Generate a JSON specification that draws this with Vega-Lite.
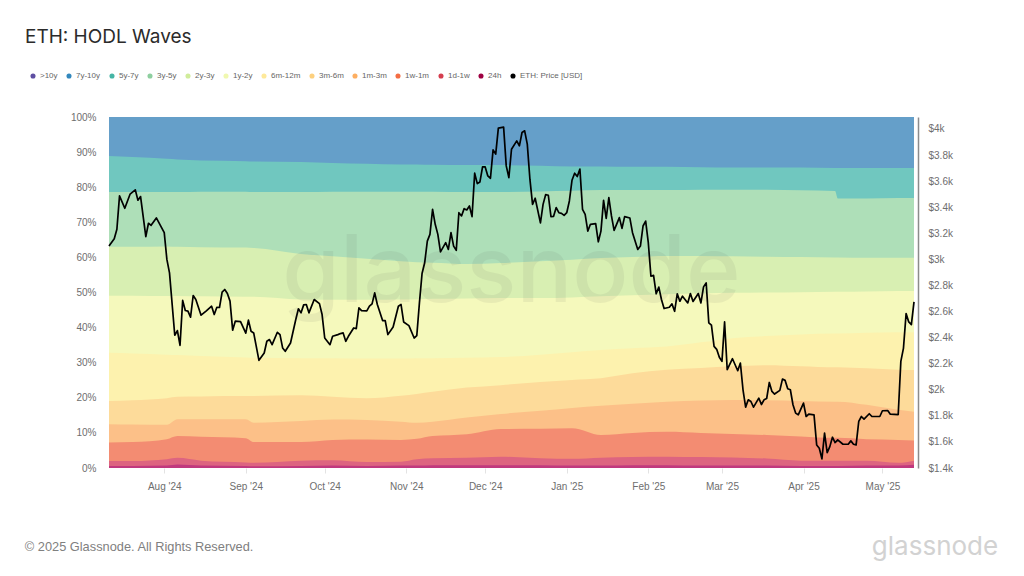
{"$schema":"https://vega.github.io/schema/vega-lite/v6.json","autosize":"none","width":805,"height":351,"padding":{"left":109,"top":117,"right":110,"bottom":108},"background":"white","title":{"text":"ETH: HODL Waves","anchor":"start","frame":"group","dx":-84,"offset":25,"fontSize":19,"fontWeight":"normal","font":"Inter","color":"#2b2b2b"},
"datasets":{"bands":[
{"date":"2024-07-11",">10y":100,"7y-10y":100,"5y-7y":88.9,"3y-5y":78.6,"2y-3y":63.0,"1y-2y":49.1,"6m-12m":32.8,"3m-6m":19.1,"1m-3m":12.5,"1w-1m":7.3,"1d-1w":2.0,"24h":0.6},
{"date":"2024-07-20",">10y":100,"7y-10y":100,"5y-7y":88.6,"3y-5y":78.6,"2y-3y":63.0,"1y-2y":49.1,"6m-12m":32.6,"3m-6m":19.3,"1m-3m":12.4,"1w-1m":7.4,"1d-1w":2.0,"24h":0.6},
{"date":"2024-08-02",">10y":100,"7y-10y":100,"5y-7y":88.1,"3y-5y":78.6,"2y-3y":63.1,"1y-2y":49.0,"6m-12m":32.3,"3m-6m":19.9,"1m-3m":12.3,"1w-1m":8.2,"1d-1w":2.5,"24h":0.7},
{"date":"2024-08-06",">10y":100,"7y-10y":100,"5y-7y":87.9,"3y-5y":78.6,"2y-3y":63.0,"1y-2y":49.0,"6m-12m":32.2,"3m-6m":20.3,"1m-3m":13.9,"1w-1m":9.1,"1d-1w":2.9,"24h":1.0},
{"date":"2024-08-15",">10y":100,"7y-10y":100,"5y-7y":87.6,"3y-5y":78.7,"2y-3y":62.9,"1y-2y":48.9,"6m-12m":31.9,"3m-6m":20.4,"1m-3m":13.9,"1w-1m":8.9,"1d-1w":2.1,"24h":0.7},
{"date":"2024-09-01",">10y":100,"7y-10y":100,"5y-7y":87.4,"3y-5y":78.7,"2y-3y":62.8,"1y-2y":48.8,"6m-12m":31.5,"3m-6m":20.5,"1m-3m":13.9,"1w-1m":8.5,"1d-1w":1.6,"24h":0.6},
{"date":"2024-09-04",">10y":100,"7y-10y":100,"5y-7y":87.3,"3y-5y":78.6,"2y-3y":62.7,"1y-2y":48.8,"6m-12m":31.4,"3m-6m":20.5,"1m-3m":12.9,"1w-1m":7.4,"1d-1w":1.5,"24h":0.5},
{"date":"2024-09-22",">10y":100,"7y-10y":100,"5y-7y":87.2,"3y-5y":78.6,"2y-3y":61.0,"1y-2y":48.0,"6m-12m":31.3,"3m-6m":20.7,"1m-3m":13.4,"1w-1m":7.4,"1d-1w":2.1,"24h":0.6},
{"date":"2024-10-04",">10y":100,"7y-10y":100,"5y-7y":86.9,"3y-5y":78.7,"2y-3y":60.3,"1y-2y":47.9,"6m-12m":31.3,"3m-6m":20.3,"1m-3m":13.8,"1w-1m":8.0,"1d-1w":2.2,"24h":0.7},
{"date":"2024-10-17",">10y":100,"7y-10y":100,"5y-7y":86.7,"3y-5y":78.7,"2y-3y":59.6,"1y-2y":47.9,"6m-12m":31.2,"3m-6m":19.9,"1m-3m":13.7,"1w-1m":8.1,"1d-1w":1.7,"24h":0.6},
{"date":"2024-10-30",">10y":100,"7y-10y":100,"5y-7y":86.5,"3y-5y":78.7,"2y-3y":58.9,"1y-2y":48.0,"6m-12m":31.2,"3m-6m":20.6,"1m-3m":13.2,"1w-1m":8.0,"1d-1w":1.8,"24h":0.7},
{"date":"2024-11-05",">10y":100,"7y-10y":100,"5y-7y":86.5,"3y-5y":78.7,"2y-3y":58.6,"1y-2y":48.1,"6m-12m":31.3,"3m-6m":21.1,"1m-3m":12.9,"1w-1m":8.3,"1d-1w":2.5,"24h":0.7},
{"date":"2024-11-11",">10y":100,"7y-10y":100,"5y-7y":86.4,"3y-5y":78.7,"2y-3y":58.5,"1y-2y":48.2,"6m-12m":31.3,"3m-6m":21.7,"1m-3m":13.2,"1w-1m":9.1,"1d-1w":2.8,"24h":0.8},
{"date":"2024-11-24",">10y":100,"7y-10y":100,"5y-7y":86.3,"3y-5y":78.6,"2y-3y":58.1,"1y-2y":48.3,"6m-12m":31.4,"3m-6m":22.9,"1m-3m":14.4,"1w-1m":9.6,"1d-1w":2.9,"24h":0.8},
{"date":"2024-12-07",">10y":100,"7y-10y":100,"5y-7y":86.3,"3y-5y":78.6,"2y-3y":58.4,"1y-2y":48.4,"6m-12m":31.6,"3m-6m":23.6,"1m-3m":15.4,"1w-1m":11.1,"1d-1w":3.2,"24h":0.8},
{"date":"2024-12-22",">10y":100,"7y-10y":100,"5y-7y":86.1,"3y-5y":78.8,"2y-3y":58.9,"1y-2y":48.4,"6m-12m":32.3,"3m-6m":24.5,"1m-3m":16.3,"1w-1m":11.2,"1d-1w":2.8,"24h":0.8},
{"date":"2025-01-03",">10y":100,"7y-10y":100,"5y-7y":85.9,"3y-5y":79.0,"2y-3y":59.3,"1y-2y":48.6,"6m-12m":33.0,"3m-6m":25.1,"1m-3m":17.1,"1w-1m":11.3,"1d-1w":2.6,"24h":0.7},
{"date":"2025-01-14",">10y":100,"7y-10y":100,"5y-7y":85.9,"3y-5y":79.2,"2y-3y":59.8,"1y-2y":48.9,"6m-12m":33.6,"3m-6m":25.6,"1m-3m":17.7,"1w-1m":9.4,"1d-1w":2.9,"24h":0.7},
{"date":"2025-01-26",">10y":100,"7y-10y":100,"5y-7y":85.8,"3y-5y":79.2,"2y-3y":60.1,"1y-2y":49.2,"6m-12m":34.1,"3m-6m":27.0,"1m-3m":18.3,"1w-1m":10.0,"1d-1w":3.1,"24h":0.8},
{"date":"2025-02-08",">10y":100,"7y-10y":100,"5y-7y":85.8,"3y-5y":79.2,"2y-3y":60.4,"1y-2y":49.5,"6m-12m":34.6,"3m-6m":28.0,"1m-3m":18.9,"1w-1m":10.3,"1d-1w":3.2,"24h":0.8},
{"date":"2025-02-21",">10y":100,"7y-10y":100,"5y-7y":85.7,"3y-5y":79.3,"2y-3y":60.4,"1y-2y":49.7,"6m-12m":35.8,"3m-6m":28.5,"1m-3m":19.2,"1w-1m":10.0,"1d-1w":3.1,"24h":0.7},
{"date":"2025-03-05",">10y":100,"7y-10y":100,"5y-7y":85.6,"3y-5y":79.3,"2y-3y":60.3,"1y-2y":49.9,"6m-12m":37.0,"3m-6m":29.0,"1m-3m":19.4,"1w-1m":9.7,"1d-1w":3.0,"24h":0.7},
{"date":"2025-03-18",">10y":100,"7y-10y":100,"5y-7y":85.6,"3y-5y":79.3,"2y-3y":60.2,"1y-2y":50.0,"6m-12m":37.6,"3m-6m":29.3,"1m-3m":19.3,"1w-1m":9.4,"1d-1w":2.7,"24h":0.7},
{"date":"2025-03-31",">10y":100,"7y-10y":100,"5y-7y":85.6,"3y-5y":79.1,"2y-3y":60.1,"1y-2y":50.1,"6m-12m":38.0,"3m-6m":29.0,"1m-3m":19.1,"1w-1m":9.0,"1d-1w":2.1,"24h":0.6},
{"date":"2025-04-13",">10y":100,"7y-10y":100,"5y-7y":85.5,"3y-5y":78.9,"2y-3y":60.0,"1y-2y":50.2,"6m-12m":38.3,"3m-6m":28.7,"1m-3m":18.9,"1w-1m":8.6,"1d-1w":2.1,"24h":0.6},
{"date":"2025-04-14",">10y":100,"7y-10y":100,"5y-7y":85.5,"3y-5y":76.8,"2y-3y":60.0,"1y-2y":50.2,"6m-12m":38.3,"3m-6m":28.7,"1m-3m":18.9,"1w-1m":8.6,"1d-1w":2.1,"24h":0.6},
{"date":"2025-04-25",">10y":100,"7y-10y":100,"5y-7y":85.5,"3y-5y":76.8,"2y-3y":59.9,"1y-2y":50.3,"6m-12m":38.5,"3m-6m":28.4,"1m-3m":18.0,"1w-1m":8.2,"1d-1w":2.1,"24h":0.7},
{"date":"2025-05-07",">10y":100,"7y-10y":100,"5y-7y":85.5,"3y-5y":76.9,"2y-3y":59.9,"1y-2y":50.4,"6m-12m":38.7,"3m-6m":28.0,"1m-3m":16.6,"1w-1m":8.0,"1d-1w":1.5,"24h":0.7},
{"date":"2025-05-13",">10y":100,"7y-10y":100,"5y-7y":85.5,"3y-5y":76.9,"2y-3y":59.9,"1y-2y":50.4,"6m-12m":38.7,"3m-6m":27.9,"1m-3m":16.0,"1w-1m":7.8,"1d-1w":2.1,"24h":0.9}
],
"price":[{"date":"2024-07-11","usd":3103},{"date":"2024-07-13","usd":3159},{"date":"2024-07-14","usd":3231},{"date":"2024-07-15","usd":3487},{"date":"2024-07-17","usd":3392},{"date":"2024-07-19","usd":3500},{"date":"2024-07-21","usd":3533},{"date":"2024-07-22","usd":3454},{"date":"2024-07-23","usd":3482},{"date":"2024-07-25","usd":3174},{"date":"2024-07-26","usd":3277},{"date":"2024-07-27","usd":3261},{"date":"2024-07-29","usd":3318},{"date":"2024-08-01","usd":3205},{"date":"2024-08-02","usd":3000},{"date":"2024-08-03","usd":2897},{"date":"2024-08-05","usd":2418},{"date":"2024-08-06","usd":2454},{"date":"2024-08-07","usd":2341},{"date":"2024-08-08","usd":2685},{"date":"2024-08-09","usd":2608},{"date":"2024-08-10","usd":2603},{"date":"2024-08-11","usd":2557},{"date":"2024-08-12","usd":2723},{"date":"2024-08-13","usd":2692},{"date":"2024-08-15","usd":2572},{"date":"2024-08-17","usd":2605},{"date":"2024-08-19","usd":2641},{"date":"2024-08-20","usd":2577},{"date":"2024-08-21","usd":2633},{"date":"2024-08-22","usd":2631},{"date":"2024-08-23","usd":2749},{"date":"2024-08-24","usd":2769},{"date":"2024-08-25","usd":2739},{"date":"2024-08-26","usd":2680},{"date":"2024-08-27","usd":2457},{"date":"2024-08-28","usd":2526},{"date":"2024-08-30","usd":2523},{"date":"2024-09-01","usd":2434},{"date":"2024-09-02","usd":2534},{"date":"2024-09-03","usd":2449},{"date":"2024-09-04","usd":2436},{"date":"2024-09-06","usd":2226},{"date":"2024-09-08","usd":2282},{"date":"2024-09-09","usd":2372},{"date":"2024-09-10","usd":2385},{"date":"2024-09-11","usd":2346},{"date":"2024-09-13","usd":2441},{"date":"2024-09-14","usd":2423},{"date":"2024-09-15","usd":2321},{"date":"2024-09-16","usd":2295},{"date":"2024-09-18","usd":2359},{"date":"2024-09-20","usd":2539},{"date":"2024-09-21","usd":2621},{"date":"2024-09-22","usd":2590},{"date":"2024-09-23","usd":2651},{"date":"2024-09-24","usd":2654},{"date":"2024-09-25","usd":2590},{"date":"2024-09-27","usd":2692},{"date":"2024-09-29","usd":2661},{"date":"2024-09-30","usd":2577},{"date":"2024-10-01","usd":2397},{"date":"2024-10-03","usd":2346},{"date":"2024-10-04","usd":2410},{"date":"2024-10-06","usd":2423},{"date":"2024-10-07","usd":2431},{"date":"2024-10-08","usd":2436},{"date":"2024-10-09","usd":2372},{"date":"2024-10-10","usd":2410},{"date":"2024-10-12","usd":2474},{"date":"2024-10-13","usd":2469},{"date":"2024-10-14","usd":2628},{"date":"2024-10-15","usd":2607},{"date":"2024-10-17","usd":2605},{"date":"2024-10-18","usd":2641},{"date":"2024-10-19","usd":2659},{"date":"2024-10-20","usd":2743},{"date":"2024-10-21","usd":2654},{"date":"2024-10-23","usd":2531},{"date":"2024-10-24","usd":2531},{"date":"2024-10-25","usd":2423},{"date":"2024-10-27","usd":2482},{"date":"2024-10-29","usd":2641},{"date":"2024-10-30","usd":2654},{"date":"2024-10-31","usd":2520},{"date":"2024-11-02","usd":2492},{"date":"2024-11-04","usd":2397},{"date":"2024-11-05","usd":2415},{"date":"2024-11-06","usd":2666},{"date":"2024-11-07","usd":2892},{"date":"2024-11-08","usd":2974},{"date":"2024-11-09","usd":3140},{"date":"2024-11-10","usd":3192},{"date":"2024-11-11","usd":3384},{"date":"2024-11-12","usd":3269},{"date":"2024-11-13","usd":3192},{"date":"2024-11-14","usd":3058},{"date":"2024-11-16","usd":3128},{"date":"2024-11-17","usd":3076},{"date":"2024-11-18","usd":3205},{"date":"2024-11-19","usd":3102},{"date":"2024-11-20","usd":3069},{"date":"2024-11-21","usd":3358},{"date":"2024-11-22","usd":3333},{"date":"2024-11-23","usd":3389},{"date":"2024-11-24","usd":3379},{"date":"2024-11-25","usd":3410},{"date":"2024-11-26","usd":3328},{"date":"2024-11-27","usd":3661},{"date":"2024-11-28","usd":3581},{"date":"2024-11-29","usd":3594},{"date":"2024-11-30","usd":3709},{"date":"2024-12-01","usd":3709},{"date":"2024-12-02","usd":3640},{"date":"2024-12-03","usd":3622},{"date":"2024-12-04","usd":3840},{"date":"2024-12-05","usd":3807},{"date":"2024-12-06","usd":4007},{"date":"2024-12-08","usd":4014},{"date":"2024-12-09","usd":3717},{"date":"2024-12-10","usd":3627},{"date":"2024-12-11","usd":3845},{"date":"2024-12-13","usd":3909},{"date":"2024-12-14","usd":3871},{"date":"2024-12-15","usd":3973},{"date":"2024-12-16","usd":3986},{"date":"2024-12-17","usd":3884},{"date":"2024-12-18","usd":3615},{"date":"2024-12-19","usd":3422},{"date":"2024-12-20","usd":3469},{"date":"2024-12-22","usd":3280},{"date":"2024-12-23","usd":3422},{"date":"2024-12-24","usd":3497},{"date":"2024-12-25","usd":3492},{"date":"2024-12-26","usd":3328},{"date":"2024-12-27","usd":3330},{"date":"2024-12-28","usd":3397},{"date":"2024-12-29","usd":3358},{"date":"2024-12-30","usd":3353},{"date":"2024-12-31","usd":3338},{"date":"2025-01-01","usd":3358},{"date":"2025-01-02","usd":3448},{"date":"2025-01-03","usd":3607},{"date":"2025-01-04","usd":3661},{"date":"2025-01-05","usd":3635},{"date":"2025-01-06","usd":3692},{"date":"2025-01-07","usd":3384},{"date":"2025-01-08","usd":3345},{"date":"2025-01-09","usd":3217},{"date":"2025-01-10","usd":3269},{"date":"2025-01-12","usd":3274},{"date":"2025-01-13","usd":3135},{"date":"2025-01-14","usd":3217},{"date":"2025-01-15","usd":3453},{"date":"2025-01-16","usd":3315},{"date":"2025-01-17","usd":3474},{"date":"2025-01-18","usd":3333},{"date":"2025-01-19","usd":3223},{"date":"2025-01-21","usd":3320},{"date":"2025-01-22","usd":3238},{"date":"2025-01-23","usd":3328},{"date":"2025-01-25","usd":3317},{"date":"2025-01-26","usd":3205},{"date":"2025-01-28","usd":3076},{"date":"2025-01-29","usd":3102},{"date":"2025-01-30","usd":3256},{"date":"2025-01-31","usd":3294},{"date":"2025-02-01","usd":3128},{"date":"2025-02-02","usd":2871},{"date":"2025-02-03","usd":2877},{"date":"2025-02-04","usd":2736},{"date":"2025-02-05","usd":2787},{"date":"2025-02-06","usd":2692},{"date":"2025-02-07","usd":2623},{"date":"2025-02-09","usd":2633},{"date":"2025-02-10","usd":2659},{"date":"2025-02-11","usd":2602},{"date":"2025-02-12","usd":2736},{"date":"2025-02-13","usd":2679},{"date":"2025-02-14","usd":2718},{"date":"2025-02-16","usd":2666},{"date":"2025-02-17","usd":2738},{"date":"2025-02-18","usd":2677},{"date":"2025-02-20","usd":2738},{"date":"2025-02-21","usd":2666},{"date":"2025-02-22","usd":2789},{"date":"2025-02-23","usd":2820},{"date":"2025-02-24","usd":2513},{"date":"2025-02-25","usd":2495},{"date":"2025-02-26","usd":2333},{"date":"2025-02-27","usd":2310},{"date":"2025-02-28","usd":2250},{"date":"2025-03-01","usd":2218},{"date":"2025-03-02","usd":2520},{"date":"2025-03-03","usd":2154},{"date":"2025-03-05","usd":2238},{"date":"2025-03-07","usd":2146},{"date":"2025-03-08","usd":2205},{"date":"2025-03-09","usd":2000},{"date":"2025-03-10","usd":1867},{"date":"2025-03-11","usd":1923},{"date":"2025-03-12","usd":1910},{"date":"2025-03-13","usd":1867},{"date":"2025-03-15","usd":1936},{"date":"2025-03-16","usd":1887},{"date":"2025-03-17","usd":1923},{"date":"2025-03-18","usd":1933},{"date":"2025-03-19","usd":2056},{"date":"2025-03-20","usd":1987},{"date":"2025-03-21","usd":1967},{"date":"2025-03-23","usd":1995},{"date":"2025-03-24","usd":2082},{"date":"2025-03-25","usd":2072},{"date":"2025-03-26","usd":2008},{"date":"2025-03-27","usd":2000},{"date":"2025-03-28","usd":1885},{"date":"2025-03-29","usd":1821},{"date":"2025-03-30","usd":1808},{"date":"2025-04-01","usd":1898},{"date":"2025-04-02","usd":1795},{"date":"2025-04-03","usd":1813},{"date":"2025-04-05","usd":1808},{"date":"2025-04-06","usd":1577},{"date":"2025-04-07","usd":1552},{"date":"2025-04-08","usd":1470},{"date":"2025-04-09","usd":1667},{"date":"2025-04-10","usd":1518},{"date":"2025-04-11","usd":1564},{"date":"2025-04-12","usd":1636},{"date":"2025-04-13","usd":1595},{"date":"2025-04-14","usd":1616},{"date":"2025-04-16","usd":1582},{"date":"2025-04-18","usd":1582},{"date":"2025-04-19","usd":1608},{"date":"2025-04-20","usd":1582},{"date":"2025-04-21","usd":1577},{"date":"2025-04-22","usd":1757},{"date":"2025-04-23","usd":1795},{"date":"2025-04-24","usd":1775},{"date":"2025-04-26","usd":1816},{"date":"2025-04-27","usd":1795},{"date":"2025-04-30","usd":1795},{"date":"2025-05-01","usd":1839},{"date":"2025-05-03","usd":1841},{"date":"2025-05-04","usd":1813},{"date":"2025-05-07","usd":1810},{"date":"2025-05-08","usd":2218},{"date":"2025-05-09","usd":2320},{"date":"2025-05-10","usd":2584},{"date":"2025-05-11","usd":2520},{"date":"2025-05-12","usd":2500},{"date":"2025-05-13","usd":2674}]},
"layer":[
{"data":{"name":"bands"},"transform":[{"fold":[">10y","7y-10y","5y-7y","3y-5y","2y-3y","1y-2y","6m-12m","3m-6m","1m-3m","1w-1m","1d-1w","24h"],"as":["band","top"]}],"mark":{"type":"area","interpolate":"monotone"},"encoding":{
"x":{"field":"date","type":"temporal","scale":{"type":"utc","domain":["2024-07-11","2025-05-13"]},"axis":{"title":null,"grid":false,"format":"%b '%y","tickCount":{"interval":"month","step":1},"labelFont":"Liberation Sans","labelFontSize":10,"labelColor":"#6e6e6e","labelPadding":8,"labelFlush":false,"domain":false,"tickColor":"#e3e3e3","tickSize":5}},
"y":{"field":"top","type":"quantitative","stack":null,"scale":{"domain":[0,100],"nice":false},"axis":{"title":null,"grid":false,"domain":false,"ticks":false,"values":[0,10,20,30,40,50,60,70,80,90,100],"labelExpr":"datum.value + '%'","labelFont":"Liberation Sans","labelFontSize":10,"labelColor":"#6e6e6e","labelPadding":13}},
"fill":{"field":"band","type":"nominal","legend":null,"scale":{"domain":[">10y","7y-10y","5y-7y","3y-5y","2y-3y","1y-2y","6m-12m","3m-6m","1m-3m","1w-1m","1d-1w","24h"],"range":["#7d6fb5","#659fc9","#70c7bf","#aedfb8","#d8efb2","#f5f9bc","#fdf2ae","#fddb9a","#fcc088","#f38c72","#dd6480","#c0397e"]}}}},
{"data":{"values":[{"label":"glassnode","date":"2024-12-11","pct":47.3}]},"mark":{"type":"text","font":"Inter","fontSize":93,"fontWeight":500,"color":"#555555","opacity":0.08,"align":"center","baseline":"alphabetic"},"encoding":{"x":{"field":"date","type":"temporal","scale":{"type":"utc","domain":["2024-07-11","2025-05-13"]}},"y":{"field":"pct","type":"quantitative","scale":{"domain":[0,100],"nice":false},"axis":null},"text":{"field":"label"}}},
{"data":{"values":[{"label":"© 2025 Glassnode. All Rights Reserved.","date":"2024-06-09","pct":-23.6}]},"mark":{"type":"text","font":"Liberation Sans","fontSize":12.8,"color":"#808080","align":"left","baseline":"alphabetic"},"encoding":{"x":{"field":"date","type":"temporal","scale":{"type":"utc","domain":["2024-07-11","2025-05-13"]}},"y":{"field":"pct","type":"quantitative","scale":{"domain":[0,100],"nice":false},"axis":null},"text":{"field":"label"}}},
{"data":{"values":[{"label":"glassnode","date":"2025-06-14","pct":-24.8}]},"mark":{"type":"text","font":"Inter","fontSize":26,"fontWeight":400,"color":"#d2d2d2","align":"right","baseline":"alphabetic"},"encoding":{"x":{"field":"date","type":"temporal","scale":{"type":"utc","domain":["2024-07-11","2025-05-13"]}},"y":{"field":"pct","type":"quantitative","scale":{"domain":[0,100],"nice":false},"axis":null},"text":{"field":"label"}}},
{"data":{"name":"price"},"mark":{"type":"line","color":"#000000","strokeWidth":1.7,"strokeJoin":"round"},"encoding":{"x":{"field":"date","type":"temporal","scale":{"type":"utc","domain":["2024-07-11","2025-05-13"]}},"y":{"field":"usd","type":"quantitative","scale":{"domain":[1400,4092],"nice":false,"zero":false},"axis":{"orient":"right","title":null,"grid":false,"offset":4,"domainColor":"#8c8c8c","domainWidth":1.5,"ticks":false,"values":[1400,1600,1800,2000,2200,2400,2600,2800,3000,3200,3400,3600,3800,4000],"labelExpr":"'$' + (datum.value / 1000) + 'k'","labelFont":"Liberation Sans","labelFontSize":10,"labelColor":"#6e6e6e","labelPadding":10}}}},
{"data":{"values":[{"series":">10y"},{"series":"7y-10y"},{"series":"5y-7y"},{"series":"3y-5y"},{"series":"2y-3y"},{"series":"1y-2y"},{"series":"6m-12m"},{"series":"3m-6m"},{"series":"1m-3m"},{"series":"1w-1m"},{"series":"1d-1w"},{"series":"24h"},{"series":"ETH: Price [USD]"}]},"mark":{"type":"point","filled":true,"size":0},"encoding":{"color":{"field":"series","type":"nominal","scale":{"domain":[">10y","7y-10y","5y-7y","3y-5y","2y-3y","1y-2y","6m-12m","3m-6m","1m-3m","1w-1m","1d-1w","24h","ETH: Price [USD]"],"range":["#5e4fa2","#3288bd","#45b5a5","#8ecf9f","#d0ec9b","#f0f8b0","#fee99a","#fdd07e","#fdae61","#f46d43","#d53e4f","#9e0142","#000000"]},"legend":{"title":null,"orient":"none","legendX":-80,"legendY":-45,"direction":"horizontal","columns":13,"gridAlign":"none","symbolType":"circle","symbolSize":26,"symbolOpacity":1,"labelFont":"Liberation Sans","labelFontSize":8,"labelColor":"#666666","labelOffset":3,"columnPadding":7,"padding":0}}}}
],
"resolve":{"scale":{"y":"independent","color":"independent"}},
"config":{"view":{"stroke":null}}}
